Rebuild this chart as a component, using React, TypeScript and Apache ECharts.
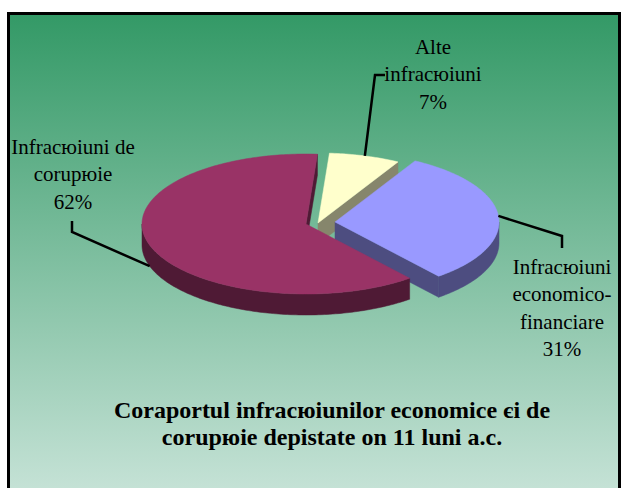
import React, { useEffect, useRef } from 'react';
import * as echarts from 'echarts';

// ---- data ----
const categories = ['Alte\ninfracюiuni', 'Infracюiuni\neconomico-\nfinanciare', 'Infracюiuni de\ncorupюie'];
const values = [7, 31, 62];
const titleLines = ['Coraportul infracюiunilor economice єi de', 'corupюie depistate оn 11 luni a.c.'];

// ---- style ----
const topColors = ['#FFFFCC', '#9999FF', '#993366'];
const sideColors = ['#86866C', '#4D4D80', '#4F1A35'];
const CX = 306;
const CY = 224;
const RX = 164;
const RY = 70;
const DEPTH = 21;
const START = 4; // degrees clockwise from 12 o'clock
const explode = [[12, -1], [29, -2], [0, 0]];
const labelAnchor = [[433, 33], [562, 253], [73, 133]];
const leaderElbow = [
  [[375, 75], [385, 75]],
  [[562, 236], [562, 248]],
  [[72, 232], [72, 221]],
];
const FONT = 'Liberation Serif, Times New Roman, serif';

export default function App() {
  const ref = useRef<HTMLDivElement>(null);
  useEffect(() => {
    if (!ref.current) return;
    const chart = echarts.init(ref.current, null, { renderer: 'svg' });
    const total = values.reduce((a, b) => a + b, 0);

    const renderItem = (params: any, api: any) => {
      const i = params.dataIndex;
      const v = api.value(0);
      let before = 0;
      for (let k = 0; k < i; k++) before += values[k];
      const a0 = START + (before / total) * 360;
      const a1 = a0 + (v / total) * 360;
      const cx = CX + explode[i][0];
      const cy = CY + explode[i][1];
      const rad = (d: number) => (d * Math.PI) / 180;
      const pt = (d: number, dy = 0) => [cx + RX * Math.sin(rad(d)), cy - RY * Math.cos(rad(d)) + dy];
      const arc = (from: number, to: number, dy = 0) => {
        const pts: number[][] = [];
        const n = Math.max(2, Math.ceil(Math.abs(to - from)));
        for (let s = 0; s <= n; s++) pts.push(pt(from + ((to - from) * s) / n, dy));
        return pts;
      };
      const children: any[] = [];
      // outer visible side
      for (const k of [-1, 0, 1]) {
        const lo = Math.max(a0, 90 + 360 * k);
        const hi = Math.min(a1, 270 + 360 * k);
        if (hi > lo) {
          children.push({
            type: 'polygon',
            shape: { points: [...arc(lo, hi), ...arc(hi, lo, DEPTH)] },
            style: { fill: sideColors[i], stroke: sideColors[i], lineWidth: 0.5 },
          });
        }
      }
      // cut faces
      if (Math.sin(rad(a0)) < 0) {
        children.push({
          type: 'polygon',
          shape: { points: [[cx, cy], pt(a0), pt(a0, DEPTH), [cx, cy + DEPTH]] },
          style: { fill: sideColors[i], stroke: sideColors[i], lineWidth: 0.5 },
        });
      }
      if (Math.sin(rad(a1)) > 0) {
        children.push({
          type: 'polygon',
          shape: { points: [[cx, cy], pt(a1), pt(a1, DEPTH), [cx, cy + DEPTH]] },
          style: { fill: sideColors[i], stroke: sideColors[i], lineWidth: 0.5 },
        });
      }
      // top face
      children.push({
        type: 'polygon',
        shape: { points: [[cx, cy], ...arc(a0, a1)] },
        style: { fill: topColors[i], stroke: topColors[i], lineWidth: 0.5 },
      });
      // leader line
      const mid = (a0 + a1) / 2;
      const front = Math.cos(rad(mid)) < 0;
      const start = pt(mid, front ? DEPTH : 0);
      children.push({
        type: 'polyline',
        shape: { points: [start, ...leaderElbow[i]] },
        style: { stroke: '#000', lineWidth: 2.5, fill: null },
      });
      // label
      const pct = Math.round((v / total) * 100) + '%';
      children.push({
        type: 'text',
        x: labelAnchor[i][0],
        y: labelAnchor[i][1],
        style: {
          text: categories[i] + '\n' + pct,
          fill: '#000',
          fontSize: 21,
          fontFamily: FONT,
          lineHeight: 27.5,
          align: 'center',
          verticalAlign: 'top',
        },
      });
      return { type: 'group', children };
    };

    chart.setOption({
      animation: false,
      backgroundColor: '#ffffff',
      title: {
        text: titleLines.join('\n'),
        left: 327,
        top: 391,
        textAlign: 'center',
        textStyle: {
          fontFamily: FONT,
          fontSize: 24,
          fontWeight: 'bold',
          lineHeight: 27,
          color: '#000',
        },
      },
      graphic: [
        {
          type: 'rect',
          z: -10,
          silent: true,
          shape: { x: 8.5, y: 13.5, width: 611, height: 490 },
          style: {
            fill: new echarts.graphic.LinearGradient(0, 0, 0, 1, [
              { offset: 0, color: '#339966' },
              { offset: 1, color: '#c9e4d9' },
            ]),
            stroke: '#000',
            lineWidth: 3,
          },
        },
      ],
      series: [
        {
          type: 'custom',
          coordinateSystem: 'none',
          z: 5,
          data: values.map((v, i) => ({ name: categories[i], value: [v] })),
          renderItem,
        },
      ],
    });
    return () => chart.dispose();
  }, []);
  return <div ref={ref} style={{ position: 'fixed', left: 0, top: 0, width: 622, height: 488 }} />;
}
